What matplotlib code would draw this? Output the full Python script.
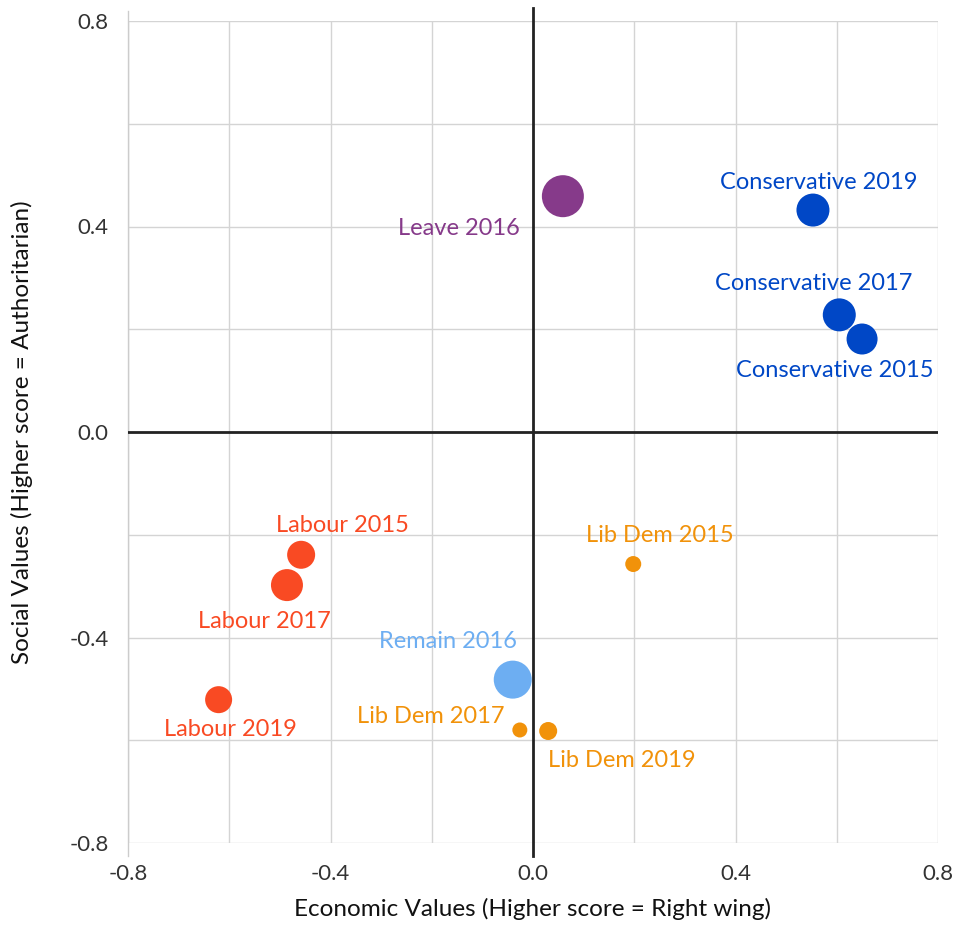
import matplotlib
matplotlib.use("Agg")
import matplotlib.pyplot as plt

plt.rcParams['font.family'] = ['Lato', 'DejaVu Sans']

# Party / referendum positions on the two value scales
labels = ["Leave 2016", "Conservative 2019", "Conservative 2017", "Conservative 2015",
          "Labour 2015", "Labour 2017", "Labour 2019", "Remain 2016",
          "Lib Dem 2015", "Lib Dem 2017", "Lib Dem 2019"]
economic = [0.059, 0.553, 0.605, 0.650, -0.458, -0.486, -0.621, -0.040, 0.198, -0.026, 0.030]
social = [0.459, 0.432, 0.228, 0.181, -0.239, -0.298, -0.521, -0.482, -0.257, -0.580, -0.582]
# marker radius (px) for each group
radius = [21, 16.5, 16.5, 15.5, 14, 16, 13.5, 19, 8, 7.5, 9]
colors = ["#863a8a", "#0047c6", "#0047c6", "#0047c6",
          "#f94a23", "#f94a23", "#f94a23", "#6daef2",
          "#f1920a", "#f1920a", "#f1920a"]
# label offsets in px (dx, dy), alignment
offsets = [(-43, -32, "right"), (6, 28, "center"), (-26, 31, "center"), (-27, -31, "center"),
           (41, 29, "center"), (-23, -36, "center"), (12, -30, "center"), (-65, 38, "center"),
           (27, 29, "center"), (-15, 13, "right"), (74, -29, "center")]

xticks = [-0.8, -0.4, 0.0, 0.4, 0.8]
yticks = [-0.8, -0.4, 0.0, 0.4, 0.8]
grid_vals = [-0.8, -0.6, -0.4, -0.2, 0.0, 0.2, 0.4, 0.6, 0.8]

fig = plt.figure(figsize=(9.59, 9.25), dpi=100)
ax = fig.add_axes([128 / 959, 1 - 843 / 925, 810 / 959, 822 / 925])
ax.set_xlim(-0.8, 0.8)
ax.set_ylim(-0.8, 0.8)

for g in grid_vals:
    ax.axvline(g, color="#d4d4d4", lw=1, zorder=0)
    ax.axhline(g, color="#d4d4d4", lw=1, zorder=0)

# left axis line slightly longer than the grid
ax.plot([-0.8, -0.8], [-0.825, 0.82], color="#cccccc", lw=1, clip_on=False, zorder=1)
# zero lines
ax.plot([0, 0], [-0.825, 0.825], color="#222222", lw=2, clip_on=False, zorder=2)
ax.plot([-0.8, 0.8], [0, 0], color="#222222", lw=2, zorder=2)

sizes = [(2 * r * 0.72) ** 2 for r in radius]
ax.scatter(economic, social, s=sizes, c=colors, linewidths=0, zorder=3)

for lab, x, y, c, (dx, dy, ha) in zip(labels, economic, social, colors, offsets):
    ax.annotate(lab, (x, y), xytext=(dx * 0.72, dy * 0.72), textcoords="offset points",
                ha=ha, va="center", color=c, fontsize=17, zorder=4)

for s in ax.spines.values():
    s.set_visible(False)
ax.set_xticks(xticks)
ax.set_yticks(yticks)
ax.set_xticklabels([f"{v:.1f}" for v in xticks])
ax.set_yticklabels([f"{v:.1f}" for v in yticks])
ax.tick_params(length=0, labelsize=16, labelcolor="#333333")
ax.tick_params(axis="x", pad=15)
ax.tick_params(axis="y", pad=14)

ax.set_xlabel("Economic Values (Higher score = Right wing)", fontsize=17.5, color="#111111", labelpad=10)
ax.set_ylabel("Social Values (Higher score = Authoritarian)", fontsize=17.5, color="#111111", labelpad=26)

fig.savefig("out.png", dpi=100)
